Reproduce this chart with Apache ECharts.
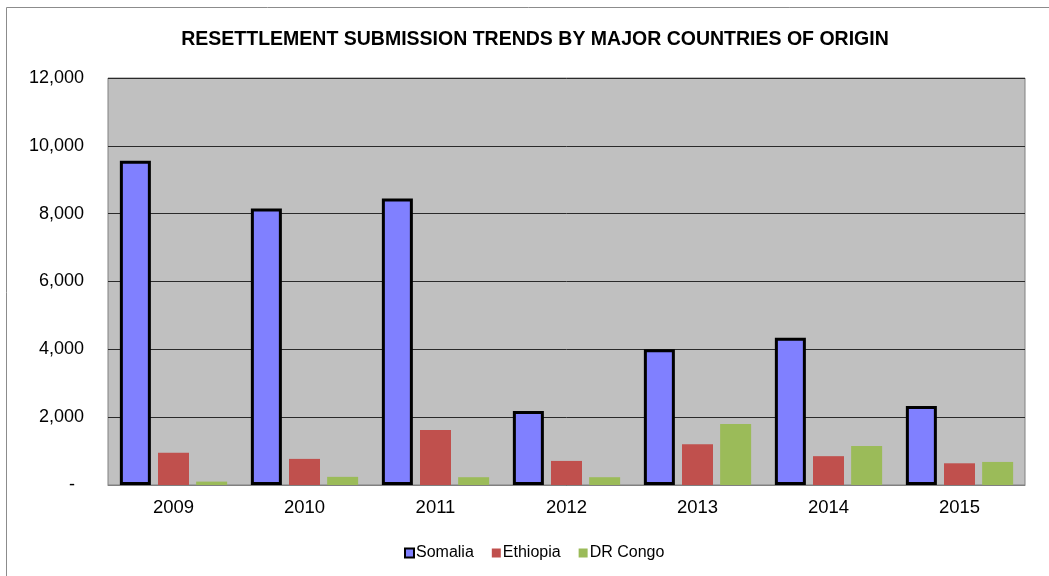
<!DOCTYPE html>
<html>
<head>
<meta charset="utf-8">
<script src="https://cdn.jsdelivr.net/npm/echarts@6/dist/echarts.min.js"></script>
<style>html,body{margin:0;padding:0;background:#fff}#c{width:1049px;height:576px}</style>
</head>
<body>
<div id="c"></div>
<script>
const years = ['2009','2010','2011','2012','2013','2014','2015'];
const somalia = [9560, 8150, 8450, 2180, 4000, 4340, 2330];
const ethiopia = [950, 770, 1620, 710, 1200, 850, 640];
const drCongo = [100, 240, 230, 230, 1800, 1150, 680];
const yTicks = [0, 2000, 4000, 6000, 8000, 10000, 12000];

const chart = echarts.init(document.getElementById('c'), null, {renderer: 'canvas'});
const font = 'Liberation Sans, Arial, sans-serif';
chart.setOption({
  animation: false,
  backgroundColor: '#fff',
  textStyle: {fontFamily: font},
  graphic: [{
    type: 'rect', z: -10, silent: true,
    shape: {x: 6.5, y: 7.5, width: 1100, height: 620},
    style: {fill: 'none', stroke: '#8c8c8c', lineWidth: 1}
  }],
  title: {
    text: 'RESETTLEMENT SUBMISSION TRENDS BY MAJOR COUNTRIES OF ORIGIN',
    left: 530, top: 25, textAlign: 'center',
    textStyle: {fontFamily: font, fontSize: 19.5, fontWeight: 'bold', color: '#000'}
  },
  grid: {
    left: 108, right: 24, top: 78, bottom: 91,
    show: true, backgroundColor: '#c0c0c0', borderColor: '#808080', borderWidth: 1
  },
  legend: {
    top: 540, left: 399,
    icon: 'rect',
    itemWidth: 9, itemHeight: 9, itemGap: 18,
    textStyle: {fontFamily: font, fontSize: 16, color: '#000', padding: [0, 0, 0, -3]},
    data: ['Somalia', 'Ethiopia', 'DR Congo']
  },
  xAxis: {
    type: 'category', data: years,
    axisLine: {show: true, lineStyle: {color: '#808080', width: 1}},
    axisTick: {show: false},
    axisLabel: {fontFamily: font, fontSize: 18.5, color: '#000', margin: 13}
  },
  yAxis: {
    type: 'value', min: 0, max: 12000, interval: 2000,
    axisLine: {show: false},
    axisTick: {show: false},
    splitLine: {show: true, lineStyle: {color: '#2a2a2a', width: 1}},
    axisLabel: {
      fontFamily: font, fontSize: 18, color: '#000', margin: 24,
      formatter: v => yTicks.includes(v) ? (v === 0 ? '{d|-}' : v.toLocaleString('en-US')) : '',
      rich: {d: {fontFamily: font, fontSize: 18, color: '#000', padding: [0, 9, 0, 0]}}
    }
  },
  series: [
    {name: 'Somalia', type: 'bar', data: somalia, barWidth: 31, barGap: '23%',
     itemStyle: {color: '#8080ff', borderColor: '#000', borderWidth: 3}},
    {name: 'Ethiopia', type: 'bar', data: ethiopia, barWidth: 31, barGap: '23%',
     itemStyle: {color: '#c0504d'}},
    {name: 'DR Congo', type: 'bar', data: drCongo, barWidth: 31, barGap: '23%',
     itemStyle: {color: '#9bbb59'}}
  ]
});
</script>
</body>
</html>
